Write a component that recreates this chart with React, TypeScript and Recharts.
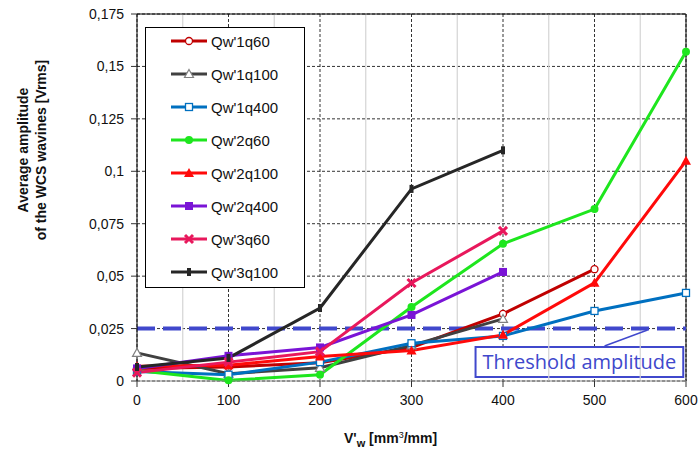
import React from 'react';
import { LineChart, Line, XAxis, YAxis, CartesianGrid, ReferenceLine, ReferenceArea } from 'recharts';

const xValues = [0, 100, 200, 300, 400, 500, 600];
const xTicks = [0, 100, 200, 300, 400, 500, 600];
const xMinorLines = [50, 150, 250, 350, 450, 550];
const yTicks = [0, 0.025, 0.05, 0.075, 0.1, 0.125, 0.15, 0.175];

const qw1q60 = [0.006, 0.0067, 0.0087, 0.016, 0.032, 0.0533];
const qw1q100 = [0.0134, 0.0035, 0.0063, 0.017, 0.0296];
const qw1q400 = [0.0045, 0.003, 0.009, 0.018, 0.0215, 0.0334, 0.042];
const qw2q60 = [0.005, 0.0003, 0.003, 0.0353, 0.0654, 0.082, 0.157];
const qw2q100 = [0.007, 0.0075, 0.0117, 0.0145, 0.022, 0.0468, 0.105];
const qw2q400 = [0.006, 0.012, 0.016, 0.0315, 0.052];
const qw3q60 = [0.004, 0.009, 0.014, 0.0467, 0.0716];
const qw3q100 = [0.0067, 0.011, 0.0348, 0.0916, 0.11];

const threshold = 0.025;
const thresholdLabel = 'Threshold amplitude';

const seriesDefs = [
  { name: "Qw'1q60", values: qw1q60, color: '#C00000', shape: 'circleOpen' },
  { name: "Qw'1q100", values: qw1q100, color: '#404040', shape: 'triOpen' },
  { name: "Qw'1q400", values: qw1q400, color: '#0070C0', shape: 'squareOpen' },
  { name: "Qw'2q60", values: qw2q60, color: '#1EE61E', shape: 'circle' },
  { name: "Qw'2q100", values: qw2q100, color: '#FF0A0A', shape: 'tri' },
  { name: "Qw'2q400", values: qw2q400, color: '#7A14D6', shape: 'square' },
  { name: "Qw'3q60", values: qw3q60, color: '#E8185C', shape: 'x' },
  { name: "Qw'3q100", values: qw3q100, color: '#262626', shape: 'plus' },
];

const series = seriesDefs.map((s) => ({
  ...s,
  data: s.values.map((v, i) => ({ x: xValues[i], y: v })),
}));

const FONT = '"Liberation Sans", Arial, sans-serif';

function Marker({ shape, color, cx, cy }: any) {
  if (cx == null || cy == null) return null;
  switch (shape) {
    case 'circleOpen':
      return <circle cx={cx} cy={cy} r={3.5} fill="#fff" stroke={color} strokeWidth={1.3} />;
    case 'triOpen':
      return (
        <polygon
          points={`${cx},${cy - 4.5} ${cx + 4.5},${cy + 3.5} ${cx - 4.5},${cy + 3.5}`}
          fill="#fff"
          stroke="#808080"
          strokeWidth={1.2}
        />
      );
    case 'squareOpen':
      return <rect x={cx - 3.5} y={cy - 3.5} width={7} height={7} fill="#fff" stroke={color} strokeWidth={1.3} />;
    case 'circle':
      return <circle cx={cx} cy={cy} r={4} fill={color} />;
    case 'tri':
      return <polygon points={`${cx},${cy - 5} ${cx + 5},${cy + 4} ${cx - 5},${cy + 4}`} fill={color} />;
    case 'square':
      return <rect x={cx - 4} y={cy - 4} width={8} height={8} fill={color} />;
    case 'x':
      return (
        <g stroke={color} strokeWidth={3}>
          <line x1={cx - 4} y1={cy - 4} x2={cx + 4} y2={cy + 4} />
          <line x1={cx - 4} y1={cy + 4} x2={cx + 4} y2={cy - 4} />
        </g>
      );
    case 'plus':
      return <rect x={cx - 2} y={cy - 4} width={4} height={8} fill={color} />;
    default:
      return null;
  }
}

function LegendBox() {
  return (
    <div
      style={{
        position: 'absolute',
        left: 145,
        top: 27,
        width: 160,
        height: 261,
        border: '1px solid #000',
        background: '#fff',
        boxSizing: 'border-box',
        fontFamily: FONT,
        fontSize: 15,
        color: '#111',
      }}
    >
      {series.map((s, i) => (
        <div
          key={s.name}
          style={{ position: 'absolute', left: 0, top: 13 + i * 33 - 10, height: 20, display: 'flex', alignItems: 'center' }}
        >
          <svg width={64} height={20} style={{ display: 'block' }}>
            <line x1={25} y1={10} x2={61} y2={10} stroke={s.color} strokeWidth={3} />
            <Marker shape={s.shape} color={s.color} cx={43} cy={10} />
          </svg>
          <span style={{ marginLeft: 1, whiteSpace: 'nowrap' }}>{s.name}</span>
        </div>
      ))}
    </div>
  );
}

const fmtY = (v: number) => String(v).replace('.', ',');

function YLabel() {
  return (
    <g fontFamily={FONT} fontWeight="bold" fontSize={14} fill="#111">
      <text x={28} y={150} textAnchor="middle" transform="rotate(-90, 28, 150)">
        Average amplitude
      </text>
      <text x={46} y={150} textAnchor="middle" transform="rotate(-90, 46, 150)">
        of the WCS wavines [Vrms]
      </text>
    </g>
  );
}

function XLabel() {
  return (
    <text x={344} y={443} fontFamily={FONT} fontWeight="bold" fontSize={14} fill="#111">
      <tspan>V'</tspan>
      <tspan dy={4} fontSize={11}>w</tspan>
      <tspan dy={-4}> [mm</tspan>
      <tspan dy={-5} fontSize={9} fontWeight="normal">3</tspan>
      <tspan dy={5}>/mm]</tspan>
    </text>
  );
}

export default function App() {
  return (
    <div style={{ position: 'absolute', left: 0, top: 0, width: 699, height: 454, background: '#fff' }}>
      <LineChart width={699} height={454} margin={{ top: 14, right: 13, left: 0, bottom: 0 }}>
        <CartesianGrid stroke="#333" strokeDasharray="3 2" strokeWidth={1} />
        {xMinorLines.map((x) => (
          <ReferenceLine key={`m${x}`} x={x} stroke="#d4d4d4" strokeWidth={1.2} />
        ))}
        <XAxis
          type="number"
          dataKey="x"
          domain={[0, 600]}
          ticks={xTicks}
          allowDuplicatedCategory={false}
          height={73}
          tickSize={6}
          tickMargin={8}
          axisLine={{ stroke: '#888' }}
          tickLine={{ stroke: '#333' }}
          tick={{ fontFamily: FONT, fontSize: 14, fill: '#111' }}
          label={{ content: () => <XLabel /> }}
        />
        <YAxis
          type="number"
          domain={[0, 0.175]}
          ticks={yTicks}
          width={137}
          tickSize={6}
          tickMargin={7}
          tickFormatter={fmtY}
          axisLine={{ stroke: '#000' }}
          tickLine={{ stroke: '#333' }}
          tick={{ fontFamily: FONT, fontSize: 14, fill: '#111' }}
          label={{ content: () => <YLabel /> }}
        />
        <ReferenceLine y={0.175} stroke="#000" strokeWidth={1} />
        <ReferenceLine x={600} stroke="#000" strokeWidth={1} />
        <ReferenceLine y={threshold} stroke="#4048CC" strokeWidth={4} strokeDasharray="18 8" />
        <ReferenceLine
          segment={[{ x: 511, y: 0.0167 }, { x: 558, y: 0.0243 }]}
          stroke="#4048CC"
          strokeWidth={1.5}
        />
        <ReferenceArea
          x1={370}
          x2={597}
          y1={0.0019}
          y2={0.0162}
          fill="#fff"
          fillOpacity={1}
          stroke="#4048CC"
          strokeWidth={2}
          label={{
            value: thresholdLabel,
            position: 'center',
            fill: '#4048CC',
            fontSize: 20,
            fontFamily: '"Open Sans", sans-serif',
          }}
        />
        {series.map((s) => (
          <Line
            key={s.name}
            name={s.name}
            data={s.data}
            dataKey="y"
            type="linear"
            stroke={s.color}
            strokeWidth={3}
            isAnimationActive={false}
            dot={(p: any) => (
              <g key={`${s.name}-${p.index}`}>
                <Marker shape={s.shape} color={s.color} cx={p.cx} cy={p.cy} />
              </g>
            )}
            activeDot={false}
          />
        ))}
      </LineChart>
      <LegendBox />
    </div>
  );
}
